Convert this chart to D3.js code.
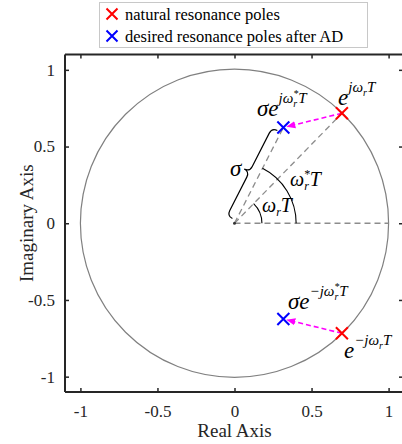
<!DOCTYPE html>
<html>
<head>
<meta charset="utf-8">
<script src="https://cdn.jsdelivr.net/npm/d3@7"></script>
<style>
  body { margin: 0; background: #fff; }
  svg { display: block; }
  text { font-family: "Liberation Serif", "Times New Roman", serif; fill: #262626; }
</style>
</head>
<body>
<svg width="402" height="444"></svg>
<script>
// poles (real / imaginary parts)
const naturalRe = [0.697, 0.697]
const naturalIm = [0.717, -0.717]
const desiredRe = [0.317, 0.317]
const desiredIm = [0.624, -0.624]
const sigma = 0.7
const wT = 0.8      // omega_r T
const wStarT = 1.1  // omega_r^* T

const xTicks = [-1, -0.5, 0, 0.5, 1]
const yTicks = [-1, -0.5, 0, 0.5, 1]
const tickLabels = ['-1', '-0.5', '0', '0.5', '1']
const legendLabels = ['natural resonance poles', 'desired resonance poles after AD']
const legendColors = ['#ff0000', '#0000ff']

const svg = d3.select('svg')

const x = d3.scaleLinear().domain([-1.1, 1.1]).range([65, 404])
const y = d3.scaleLinear().domain([-1.1, 1.1]).range([392, 54.5])
const x0 = x(0), y0 = y(0)
const px = v => x(v) - x(0) // data length -> pixels

svg.append('defs').append('marker')
  .attr('id', 'head')
  .attr('viewBox', '0 0 10 10')
  .attr('refX', 9).attr('refY', 5)
  .attr('markerWidth', 9).attr('markerHeight', 9)
  .attr('markerUnits', 'userSpaceOnUse')
  .attr('orient', 'auto')
  .append('path')
  .attr('d', 'M0,1 L10,5 L0,9 Z')
  .attr('fill', '#ff00ff')

// unit circle
svg.append('circle')
  .attr('cx', x0).attr('cy', y0)
  .attr('r', px(1))
  .attr('fill', 'none')
  .attr('stroke', '#808080')
  .attr('stroke-width', 1.2)

// dashed rays from origin
const rays = [[1, 0], [naturalRe[0], naturalIm[0]], [desiredRe[0], desiredIm[0]]]
svg.selectAll('line.ray').data(rays)
  .enter().append('line')
  .attr('class', 'ray')
  .attr('x1', x0).attr('y1', y0)
  .attr('x2', d => x(d[0])).attr('y2', d => y(d[1]))
  .attr('stroke', '#8c8c8c')
  .attr('stroke-width', 1.3)
  .attr('stroke-dasharray', '6,4')

// angle arcs
const arcPath = (r, a0, a1) => {
  const p = d3.path()
  p.arc(x0, y0, px(r), -a0, -a1, true)
  return p.toString()
}
svg.append('path').attr('d', arcPath(0.178, 0, wT))
  .attr('fill', 'none').attr('stroke', '#000').attr('stroke-width', 1.1)
svg.append('path').attr('d', arcPath(0.4, 0, wStarT))
  .attr('fill', 'none').attr('stroke', '#000').attr('stroke-width', 1.1)

svg.append('circle').attr('cx', x0).attr('cy', y0).attr('r', 1.5).attr('fill', '#333')

// curly brace along sigma
const bx = x(desiredRe[0]) - x0, by = y(desiredIm[0]) - y0
const L = Math.hypot(bx, by)
const ang = Math.atan2(by, bx) * 180 / Math.PI
const s0 = 0.03 * L, s1 = 0.95 * L, mid = (s0 + s1) / 2
const off = 4, h = 12
const bm = -off - h / 2, tip = -off - h
svg.append('path')
  .attr('transform', `translate(${x0},${y0}) rotate(${ang})`)
  .attr('d', `M${s0},${-off} Q${s0},${bm} ${s0 + 6},${bm} L${mid - 6},${bm} Q${mid},${bm} ${mid},${tip}` +
             ` Q${mid},${bm} ${mid + 6},${bm} L${s1 - 6},${bm} Q${s1},${bm} ${s1},${-off}`)
  .attr('fill', 'none').attr('stroke', '#000').attr('stroke-width', 1.2)

// magenta arrows from natural to desired poles
naturalRe.forEach((re, i) => {
  const ax = x(re), ay = y(naturalIm[i])
  const bx2 = x(desiredRe[i]), by2 = y(desiredIm[i])
  const d = Math.hypot(bx2 - ax, by2 - ay)
  const t = (d - 4) / d
  svg.append('line')
    .attr('x1', ax).attr('y1', ay)
    .attr('x2', ax + (bx2 - ax) * t).attr('y2', ay + (by2 - ay) * t)
    .attr('stroke', '#ff00ff').attr('stroke-width', 1.6)
    .attr('stroke-dasharray', '5,3')
    .attr('marker-end', 'url(#head)')
})

// pole markers
const cross = (g, cx, cy, color, s) => {
  g.append('path')
    .attr('d', `M${cx - s},${cy - s}L${cx + s},${cy + s}M${cx - s},${cy + s}L${cx + s},${cy - s}`)
    .attr('stroke', color).attr('stroke-width', 2).attr('fill', 'none')
}
naturalRe.forEach((re, i) => cross(svg, x(re), y(naturalIm[i]), legendColors[0], 6))
desiredRe.forEach((re, i) => cross(svg, x(re), y(desiredIm[i]), legendColors[1], 6))

// math labels: segments [text, size, raise]
const mathLabel = (lx, ly, segs) => {
  const t = svg.append('text').attr('x', lx).attr('y', ly)
    .style('font-style', 'italic').style('fill', '#000')
  segs.forEach(s => {
    const ts = t.append('tspan').attr('y', ly - (s[2] || 0)).style('font-size', s[1] + 'px').text(s[0])
    if (s[3]) ts.attr('dx', s[3])
  })
}
const BIG = 23, SUP = 15, SUB = 10
mathLabel(338, 105, [['e', BIG], ['jω', SUP, 13], ['r', SUB, 9], ['T', SUP, 13]])
mathLabel(257, 116, [['σe', BIG], ['jω', SUP, 13], ['r', SUB, 9], ['*', SUB, 19, -4], ['T', SUP, 13]])
mathLabel(288, 309, [['σe', BIG], ['−jω', SUP, 13], ['r', SUB, 9], ['*', SUB, 19, -4], ['T', SUP, 13]])
mathLabel(344, 358, [['e', BIG], ['−jω', SUP, 13], ['r', SUB, 9], ['T', SUP, 13]])
mathLabel(262, 212, [['ω', 20], ['r', 12, -4], ['T', 20]])
mathLabel(290, 186, [['ω', 20], ['r', 12, -4], ['*', 12, 8, -5], ['T', 20]])
mathLabel(230, 176, [['σ', 23]])

// axes (box with inward ticks)
const axB = svg.append('g').attr('transform', `translate(0,${y(-1.1)})`)
  .call(d3.axisBottom(x).tickValues(xTicks).tickFormat((d, i) => tickLabels[i]).tickSize(-4).tickPadding(13))
const axT = svg.append('g').attr('transform', `translate(0,${y(1.1)})`)
  .call(d3.axisTop(x).tickValues(xTicks).tickFormat('').tickSize(-4))
const axL = svg.append('g').attr('transform', `translate(${x(-1.1)},0)`)
  .call(d3.axisLeft(y).tickValues(yTicks).tickFormat((d, i) => tickLabels[i]).tickSize(-4).tickPadding(10))
const axR = svg.append('g').attr('transform', `translate(${x(1.1) - 1},0)`)
  .call(d3.axisRight(y).tickValues(yTicks).tickFormat('').tickSize(-4))
;[axB, axT, axL, axR].forEach(g => {
  g.selectAll('path.domain').attr('stroke', '#262626').attr('stroke-width', 2)
  g.selectAll('.tick line').attr('stroke', '#262626').attr('stroke-width', 1.5)
  g.selectAll('.tick text').style('font-size', '17px').style('fill', '#262626')
    .style('font-family', '"Liberation Serif", serif')
})
axB.selectAll('path.domain').attr('d', `M${x(-1.1)},0H${x(1.1)}`)
axT.selectAll('path.domain').attr('d', `M${x(-1.1)},0H${x(1.1)}`)
axL.selectAll('path.domain').attr('d', `M0,${y(-1.1)}V${y(1.1)}`)
axR.selectAll('path.domain').attr('d', `M0,${y(-1.1)}V${y(1.1)}`)

svg.append('text')
  .attr('x', x(0)).attr('y', 437)
  .attr('text-anchor', 'middle')
  .style('font-size', '19px')
  .text('Real Axis')
svg.append('text')
  .attr('transform', `translate(33,${y(0)}) rotate(-90)`)
  .attr('text-anchor', 'middle')
  .style('font-size', '19px')
  .text('Imaginary Axis')

// legend
const lg = svg.append('g')
lg.append('rect').attr('x', 99.5).attr('y', 2.5).attr('width', 268).attr('height', 45)
  .attr('fill', '#fff').attr('stroke', '#c8c8c8').attr('stroke-width', 1)
legendLabels.forEach((lab, i) => {
  const ly = 14 + i * 22
  cross(lg, 112, ly, legendColors[i], 5.5)
  lg.append('text').attr('x', 125).attr('y', ly + 5.5)
    .style('font-size', '16.5px').style('fill', '#000').text(lab)
})
</script>
</body>
</html>
